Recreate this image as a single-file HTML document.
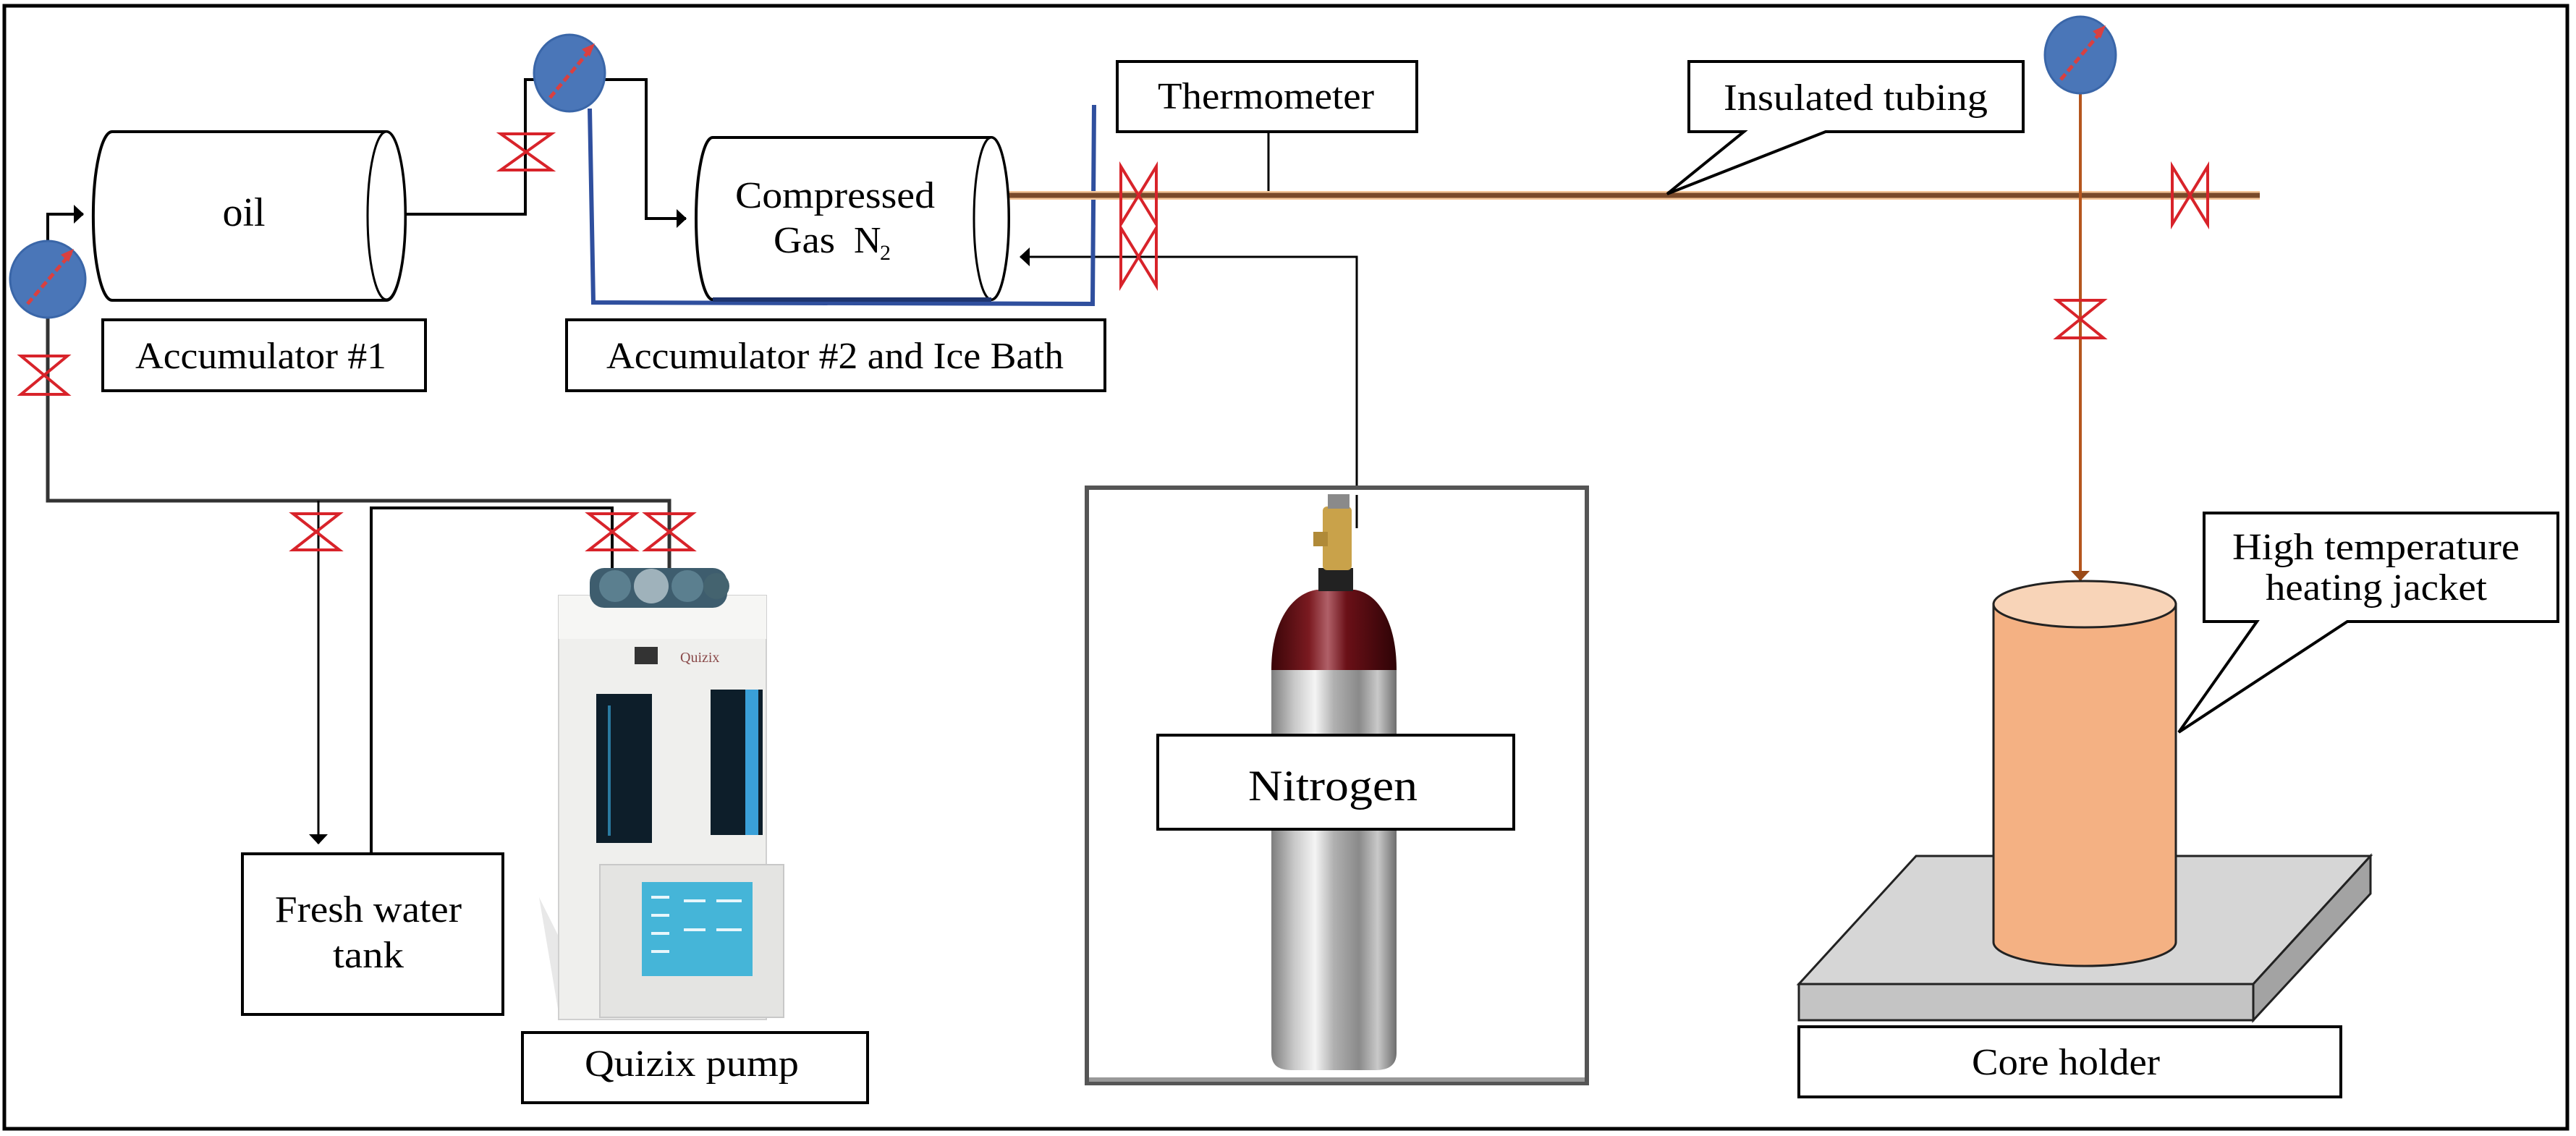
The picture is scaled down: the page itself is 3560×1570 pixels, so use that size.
<!DOCTYPE html>
<html><head><meta charset="utf-8"><style>html,body{margin:0;padding:0;background:#fff}svg{display:block}</style></head>
<body>
<svg width="3560" height="1570" viewBox="0 0 3560 1570" xmlns="http://www.w3.org/2000/svg" font-family="'Liberation Serif', serif" font-size="52" fill="#000">
<defs>
<linearGradient id="silver" x1="0" x2="1" y1="0" y2="0">
<stop offset="0" stop-color="#7d7d7d"/><stop offset="0.18" stop-color="#c8c8c8"/><stop offset="0.35" stop-color="#f4f4f4"/><stop offset="0.5" stop-color="#b0b0b0"/><stop offset="0.7" stop-color="#8a8a8a"/><stop offset="0.85" stop-color="#c9c9c9"/><stop offset="1" stop-color="#6e6e6e"/>
</linearGradient>
<linearGradient id="red" x1="0" x2="1" y1="0" y2="0">
<stop offset="0" stop-color="#3a0508"/><stop offset="0.3" stop-color="#7a1a20"/><stop offset="0.45" stop-color="#b06068"/><stop offset="0.6" stop-color="#6a1017"/><stop offset="1" stop-color="#2e0306"/>
</linearGradient>
<marker id="ahb" markerWidth="14" markerHeight="26" refX="13" refY="13" orient="auto" markerUnits="userSpaceOnUse"><path d="M0,0 L14,13 L0,26 Z" fill="#000"/></marker>
<marker id="ahbr" markerWidth="14" markerHeight="26" refX="13" refY="13" orient="auto" markerUnits="userSpaceOnUse"><path d="M0,0 L14,13 L0,26 Z" fill="#9a4a18"/></marker>
</defs>

<rect x="6" y="8" width="3542" height="1552" fill="none" stroke="#000" stroke-width="5"/>

<g stroke="#000" stroke-width="4" fill="none">
<path d="M66,333 V296 H115" marker-end="url(#ahb)"/>
<path d="M560,296 H726 V110 H740"/>
<path d="M835,110 H893 V302 H948" marker-end="url(#ahb)"/>
<path d="M1875,730 V355 H1410" marker-end="url(#ahb)" stroke-width="3"/>
<path d="M1753,182 V268" stroke-width="3"/>
<path d="M66,440 V692 H925 V790" stroke-width="5" stroke="#333"/>
<path d="M513,1180 V702 H846 V790" stroke-width="4"/>
<path d="M440,692 V1166" stroke-width="3" marker-end="url(#ahb)"/>
</g>

<path d="M815,150 L820,418 L1510,420 L1512,145" fill="none" stroke="#2f4f9e" stroke-width="6"/>

<line x1="1394" y1="270" x2="3123" y2="270" stroke="#f5c79a" stroke-width="12"/>
<line x1="1394" y1="270" x2="3123" y2="270" stroke="#7a4a2a" stroke-width="7"/>
<line x1="2875" y1="125" x2="2875" y2="802" stroke="#b5561e" stroke-width="4" marker-end="url(#ahbr)"/>

<path d="M155,182 H534 A26,116 0 0 1 534,415 H155 A26,116 0 0 1 155,182 Z" fill="#fff" stroke="#000" stroke-width="4"/>
<ellipse cx="534" cy="298" rx="26" ry="116" fill="#fff" stroke="#000" stroke-width="3"/>
<text x="337" y="312" font-size="56" text-anchor="middle">oil</text>

<path d="M985,190 H1370 A24,112 0 0 1 1370,414 H985 A23,112 0 0 1 985,190 Z" fill="#fff" stroke="#000" stroke-width="4"/>
<ellipse cx="1370" cy="302" rx="24" ry="112" fill="#fff" stroke="#000" stroke-width="3"/>
<line x1="985" y1="414" x2="1370" y2="414" stroke="#1f3570" stroke-width="6"/>
<text x="1016" y="287" textLength="276" lengthAdjust="spacingAndGlyphs">Compressed</text>
<text x="1069" y="349" textLength="85" lengthAdjust="spacingAndGlyphs">Gas</text>
<text x="1180" y="349">N</text><text x="1216" y="359" font-size="30">2</text>

<g>
<ellipse cx="66" cy="386" rx="52" ry="53" fill="#4a76b8" stroke="#3a66a8" stroke-width="3"/>
<line x1="38" y1="420" x2="98" y2="350" stroke="#d94040" stroke-width="5" stroke-dasharray="10,5"/>
<path d="M102,344 L84,352 L95,362 Z" fill="#d94040"/>
<ellipse cx="787" cy="101" rx="49" ry="53" fill="#4a76b8" stroke="#3a66a8" stroke-width="3"/>
<line x1="760" y1="135" x2="818" y2="66" stroke="#d94040" stroke-width="5" stroke-dasharray="10,5"/>
<path d="M822,60 L804,68 L815,78 Z" fill="#d94040"/>
<ellipse cx="2875" cy="76" rx="49" ry="53" fill="#4a76b8" stroke="#3a66a8" stroke-width="3"/>
<line x1="2848" y1="110" x2="2906" y2="41" stroke="#d94040" stroke-width="5" stroke-dasharray="10,5"/>
<path d="M2910,35 L2892,43 L2903,53 Z" fill="#d94040"/>
</g>

<g fill="none" stroke="#d8232a" stroke-width="4">
<path d="M29,492 H93 L29,545 H93 Z"/>
<path d="M692,185 H762 L692,235 H762 Z"/>
<path d="M405,710 H469 L405,760 H469 Z"/>
<path d="M814,710 H878 L814,760 H878 Z"/>
<path d="M893,710 H957 L893,760 H957 Z"/>
<path d="M2843,415 H2907 L2843,467 H2907 Z"/>
<path d="M1549,230 V310 L1598,230 V310 Z"/>
<path d="M1549,315 V395 L1598,315 V395 Z"/>
<path d="M3002,230 V310 L3051,230 V310 Z"/>
</g>

<g fill="#fff" stroke="#000" stroke-width="4">
<rect x="142" y="442" width="446" height="98"/>
<rect x="783" y="442" width="744" height="98"/>
<rect x="1544" y="85" width="414" height="97"/>
<path d="M2334,85 H2796 V182 H2523 L2304,268 L2410,182 H2334 Z"/>
<rect x="335" y="1180" width="360" height="222"/>
<rect x="722" y="1427" width="477" height="97"/>
<rect x="2486" y="1419" width="749" height="97"/>
</g>
<g>
<text x="187" y="509" textLength="347" lengthAdjust="spacingAndGlyphs">Accumulator #1</text>
<text x="838" y="509" textLength="632" lengthAdjust="spacingAndGlyphs">Accumulator #2 and Ice Bath</text>
<text x="1600" y="150" textLength="299" lengthAdjust="spacingAndGlyphs">Thermometer</text>
<text x="2382" y="152" textLength="365" lengthAdjust="spacingAndGlyphs">Insulated tubing</text>
<text x="380" y="1274" textLength="258" lengthAdjust="spacingAndGlyphs">Fresh water</text>
<text x="460" y="1337" textLength="98" lengthAdjust="spacingAndGlyphs">tank</text>
<text x="808" y="1487" textLength="296" lengthAdjust="spacingAndGlyphs">Quizix pump</text>
<text x="2725" y="1485" textLength="260" lengthAdjust="spacingAndGlyphs">Core holder</text>
</g>

<g>
<path d="M745,1240 L772,1400 L830,1410 Z" fill="#d8d8d8" opacity="0.6"/>
<rect x="772" y="823" width="287" height="586" fill="#efefed" stroke="#d0d0d0" stroke-width="2"/>
<rect x="772" y="823" width="287" height="60" fill="#f6f6f4"/>
<rect x="815" y="785" width="190" height="55" rx="20" fill="#3e5d6e"/>
<circle cx="850" cy="810" r="22" fill="#5b7f8f"/><circle cx="900" cy="810" r="24" fill="#9fb2bb"/><circle cx="950" cy="810" r="22" fill="#5b7f8f"/><circle cx="990" cy="810" r="18" fill="#44636f"/>
<rect x="877" y="894" width="32" height="24" fill="#333"/>
<text x="940" y="915" font-size="20" fill="#8a4a4a">Quizix</text>
<rect x="824" y="959" width="77" height="206" fill="#0d1e2a"/>
<rect x="982" y="953" width="72" height="201" fill="#0d1e2a"/>
<rect x="1030" y="953" width="18" height="201" fill="#3aa0d8"/>
<rect x="840" y="975" width="4" height="180" fill="#2a7aa0"/>
<rect x="829" y="1195" width="254" height="211" fill="#e4e4e2" stroke="#c8c8c8" stroke-width="2"/>
<rect x="887" y="1219" width="153" height="130" fill="#45b5d8"/>
<g stroke="#e8f6fb" stroke-width="4"><line x1="900" y1="1240" x2="925" y2="1240"/><line x1="900" y1="1265" x2="925" y2="1265"/><line x1="900" y1="1290" x2="925" y2="1290"/><line x1="900" y1="1315" x2="925" y2="1315"/><line x1="945" y1="1245" x2="975" y2="1245"/><line x1="990" y1="1245" x2="1025" y2="1245"/><line x1="945" y1="1285" x2="975" y2="1285"/><line x1="990" y1="1285" x2="1025" y2="1285"/></g>
</g>

<rect x="1502" y="674" width="691" height="823" fill="#fff" stroke="#555" stroke-width="6"/>
<line x1="1505" y1="1492" x2="2190" y2="1492" stroke="#999" stroke-width="6"/>
<path d="M1757,926 C1757,860 1785,820 1820,815 H1872 C1905,820 1930,860 1930,926 Z" fill="url(#red)"/>
<path d="M1757,926 H1930 V1455 C1930,1475 1915,1479 1900,1479 H1787 C1770,1479 1757,1475 1757,1455 Z" fill="url(#silver)"/>
<rect x="1822" y="785" width="48" height="32" fill="#222"/>
<rect x="1828" y="700" width="40" height="88" rx="6" fill="#c9a24a"/>
<rect x="1815" y="735" width="20" height="20" fill="#b08a38"/>
<rect x="1835" y="683" width="30" height="20" fill="#8a8a8a"/>
<line x1="1875" y1="684" x2="1875" y2="730" stroke="#000" stroke-width="3"/>
<rect x="1600" y="1016" width="492" height="130" fill="#fff" stroke="#000" stroke-width="4"/>
<text x="1725" y="1106" font-size="60" textLength="234" lengthAdjust="spacingAndGlyphs">Nitrogen</text>

<polygon points="2648,1183 3276,1183 3114,1360 2486,1360" fill="#d6d6d6" stroke="#222" stroke-width="3"/>
<polygon points="2486,1360 3114,1360 3114,1410 2486,1410" fill="#c4c4c4" stroke="#222" stroke-width="3"/>
<polygon points="3114,1360 3276,1183 3276,1235 3114,1410" fill="#a3a3a3" stroke="#222" stroke-width="3"/>
<path d="M2755,835 V1302 A126,33 0 0 0 3007,1302 V835 Z" fill="#f4b183" stroke="#222" stroke-width="3"/>
<ellipse cx="2881" cy="835" rx="126" ry="32" fill="#f8d4b8" stroke="#222" stroke-width="3"/>
<path d="M3046,709 H3535 V859 H3244 L3011,1012 L3119,859 H3046 Z" fill="#fff" stroke="#000" stroke-width="4"/>
<text x="3085" y="773" textLength="397" lengthAdjust="spacingAndGlyphs">High temperature</text>
<text x="3131" y="829" textLength="306" lengthAdjust="spacingAndGlyphs">heating jacket</text>
</svg>
</body></html>
